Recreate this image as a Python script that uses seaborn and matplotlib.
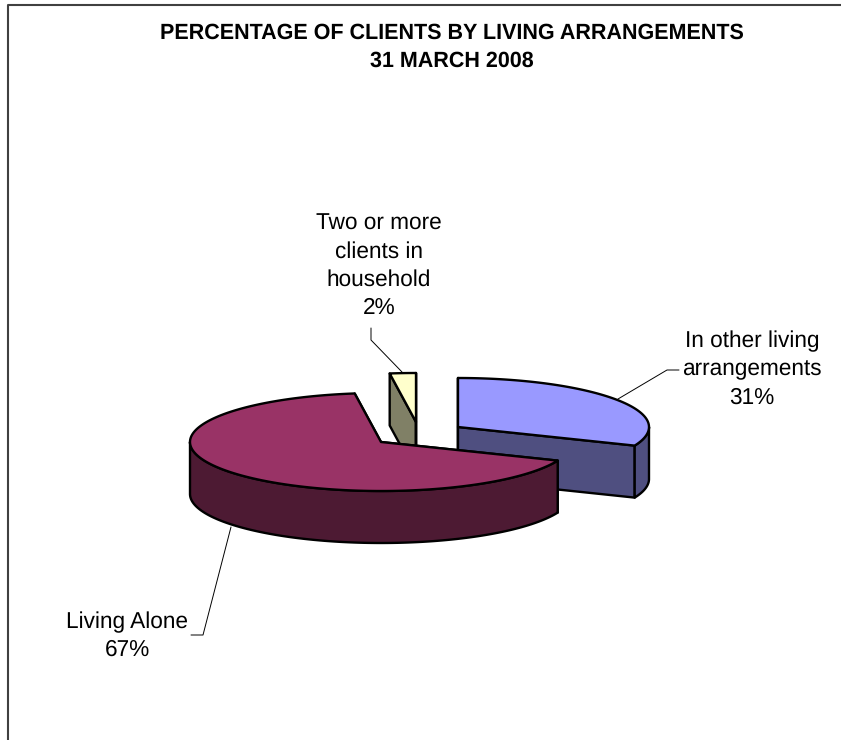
import numpy as np
import pandas as pd
import matplotlib
matplotlib.use("Agg")
import matplotlib.pyplot as plt
import seaborn as sns

# data (labels are rounded, the slices are not quite)
categories = ["In other living\narrangements", "Living Alone", "Two or more\nclients in\nhousehold"]
shares = [31.2, 66.6, 2.2]

# colours
top_colours = ["#9999FF", "#993366", "#FFFFCC"]
side_colours = ["#4F4F80", "#4D1A33", "#808066"]

# layout, in pixels of the 841x740 picture
centres = [(458, 427), (381, 442), (416, 422)]
radius_x = 191
radius_y = 49
depth = 52
label_pos = [(752, 369.5), (127, 636), (379, 266)]
leaders = [
    [(618, 399), (667, 370), (679, 370)],
    [(231, 527), (203, 635), (191, 635)],
    [(402, 372), (371, 340), (371, 328)],
]

sns.set_theme(style="white")
plt.rcParams["font.family"] = ["Liberation Sans", "DejaVu Sans"]
plt.rcParams["text.hinting"] = "no_hinting"

df = pd.DataFrame({"category": categories, "share": shares,
                   "top": top_colours, "side": side_colours})
# angles run clockwise from 12 o'clock
ends = np.cumsum(df["share"]) / df["share"].sum() * 2 * np.pi
df["start"] = np.r_[0, ends[:-1]]
df["end"] = ends
df["cx"] = [c[0] for c in centres]
df["cy"] = [c[1] for c in centres]


def rim(row, angles):
    return (row.cx + radius_x * np.sin(angles), row.cy - radius_y * np.cos(angles))


def draw_slice(ax, row):
    kw = dict(edgecolor="black", linewidth=1.7, joinstyle="round")
    # cut faces first, the top face hides the ones pointing away
    for a in (row.start, row.end):
        x, y = rim(row, np.array([a]))
        xs = [row.cx, x[0], x[0], row.cx]
        ys = [row.cy, y[0], y[0] + depth, row.cy + depth]
        ax.fill(xs, ys, facecolor=row.side, **kw)
    # outer wall, only the front half of the circle shows
    lo, hi = max(row.start, np.pi / 2), min(row.end, 3 * np.pi / 2)
    if hi > lo:
        t = np.linspace(lo, hi, 200)
        x, y = rim(row, t)
        ax.fill(np.r_[x, x[::-1]], np.r_[y, y[::-1] + depth], facecolor=row.side, **kw)
    t = np.linspace(row.start, row.end, 300)
    x, y = rim(row, t)
    ax.fill(np.r_[row.cx, x], np.r_[row.cy, y], facecolor=row.top, **kw)


fig = plt.figure(figsize=(8.41, 7.40), dpi=100)
ax = fig.add_axes([0, 0, 1, 1])
ax.set_xlim(0, 841)
ax.set_ylim(740, 0)
ax.axis("off")

# frame, the picture cuts it off at right and bottom
ax.plot([8.5, 8.5, 841], [740, 4.5, 4.5], color="#404040", linewidth=1.5)

ax.text(452, 33.5, "PERCENTAGE OF CLIENTS BY LIVING ARRANGEMENTS", ha="center", va="center",
        fontsize=15.5, fontweight="bold", color="black")
ax.text(452, 61, "31 MARCH 2008", ha="center", va="center",
        fontsize=15.5, fontweight="bold", color="black")

# back to front
for row in df.sort_values("cy").itertuples():
    draw_slice(ax, row)

for i, row in enumerate(df.itertuples()):
    pts = np.array(leaders[i])
    ax.plot(pts[:, 0], pts[:, 1], color="black", linewidth=0.7)
    ax.text(label_pos[i][0], label_pos[i][1], f"{row.category}\n{row.share:.0f}%",
            ha="center", va="center", fontsize=16.3, color="black", linespacing=1.4)

fig.savefig("out.png", dpi=100)
